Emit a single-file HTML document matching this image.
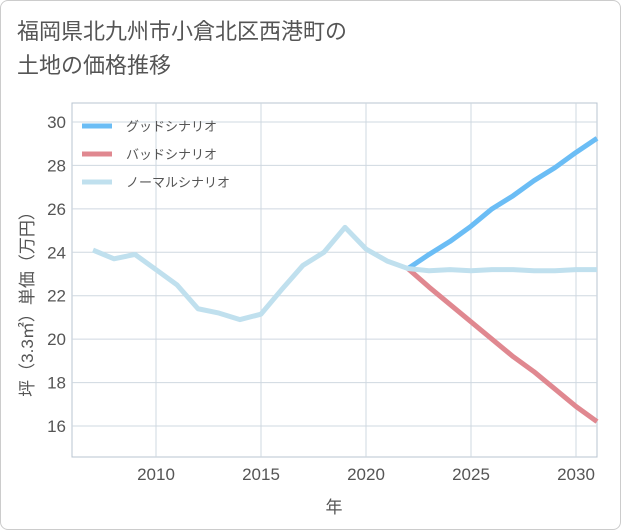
<!DOCTYPE html>
<html><head><meta charset="utf-8"><style>
body{margin:0;background:#fff;font-family:"Liberation Sans","Noto Sans CJK JP",sans-serif}
</style></head><body>
<div style="position:relative;width:619px;height:528px;border:1px solid #ccc;border-radius:8px;overflow:hidden">
<div style="position:absolute;left:16px;top:14px;font-size:22px;line-height:34px;color:#555">福岡県北九州市小倉北区西港町の<br>土地の価格推移</div>
<svg id="c" width="621" height="530" style="position:absolute;left:-1px;top:-1px"></svg>
</div>
<script>
const years=[2007,2008,2009,2010,2011,2012,2013,2014,2015,2016,2017,2018,2019,2020,2021,2022,2023,2024,2025,2026,2027,2028,2029,2030,2031];
const normal=[24.1,23.7,23.9,23.2,22.5,21.4,21.2,20.9,21.15,22.3,23.4,24.0,25.15,24.15,23.6,23.25,23.15,23.2,23.15,23.2,23.2,23.15,23.15,23.2,23.2];
const goodYears=[2022,2023,2024,2025,2026,2027,2028,2029,2030,2031];
const good=[23.25,23.9,24.5,25.2,26.0,26.6,27.3,27.9,28.6,29.25];
const bad=[23.25,22.4,21.6,20.8,20.0,19.2,18.5,17.7,16.9,16.2];
const yTicks=[16,18,20,22,24,26,28,30];
const xTicks=[2010,2015,2020,2025,2030];
const NS="http://www.w3.org/2000/svg",svg=document.getElementById('c');
const L=72,R=597,T=103,B=457;
const x=v=>156+(v-2010)*21;
const y=v=>122+(30-v)*(304/14);
function el(t,a){const e=document.createElementNS(NS,t);for(const k in a)e.setAttribute(k,a[k]);svg.appendChild(e);return e;}
const bg=el('rect',{x:L,y:T,width:R-L,height:B-T,fill:'#fff',stroke:'#b8c4d0'});


yTicks.forEach(v=>{
 const g=el('line',{x1:L,x2:R,y1:y(v),y2:y(v),stroke:'#cfd8e0'});
 
 
 const t=el('text',{x:L-6,y:y(v)+6,'text-anchor':'end','font-size':17,fill:'#555'});
 t.textContent=v;
 
 
});
xTicks.forEach(v=>{
 const g=el('line',{x1:x(v),x2:x(v),y1:T,y2:B,stroke:'#cfd8e0'});
 
 
 const t=el('text',{x:x(v),y:B+23,'text-anchor':'middle','font-size':17,fill:'#555'});
 t.textContent=v;
 
 
});
function line(xs,ys,color,name){
 const p=el('polyline',{points:xs.map((v,i)=>x(v)+','+y(ys[i])).join(' '),fill:'none',stroke:color,'stroke-width':5,'stroke-linejoin':'round'});
 
 
}
line(goodYears,good,'#6bbdf5','good-scenario-line');
line(goodYears,bad,'#e08890','bad-scenario-line');
line(years,normal,'#c0e0ee','normal-scenario-line');
const leg=[['グッドシナリオ','#6bbdf5'],['バッドシナリオ','#e08890'],['ノーマルシナリオ','#c0e0ee']];
leg.forEach((d,i)=>{
 const ly=126+i*28;
 const s=el('line',{x1:82,x2:112,y1:ly,y2:ly,stroke:d[1],'stroke-width':5});
 
 
 const t=el('text',{x:126,y:ly+5,'font-size':13,fill:'#555'});
 t.textContent=d[0];
 
 
});
const xt=el('text',{x:334,y:513,'text-anchor':'middle','font-size':17,fill:'#555'});
xt.textContent='年';


const yt=el('text',{x:0,y:0,'text-anchor':'middle','font-size':17,fill:'#555',transform:'translate(33,300) rotate(-90)'});
yt.textContent='坪（3.3㎡）単価（万円）';


</script>
</body></html>
